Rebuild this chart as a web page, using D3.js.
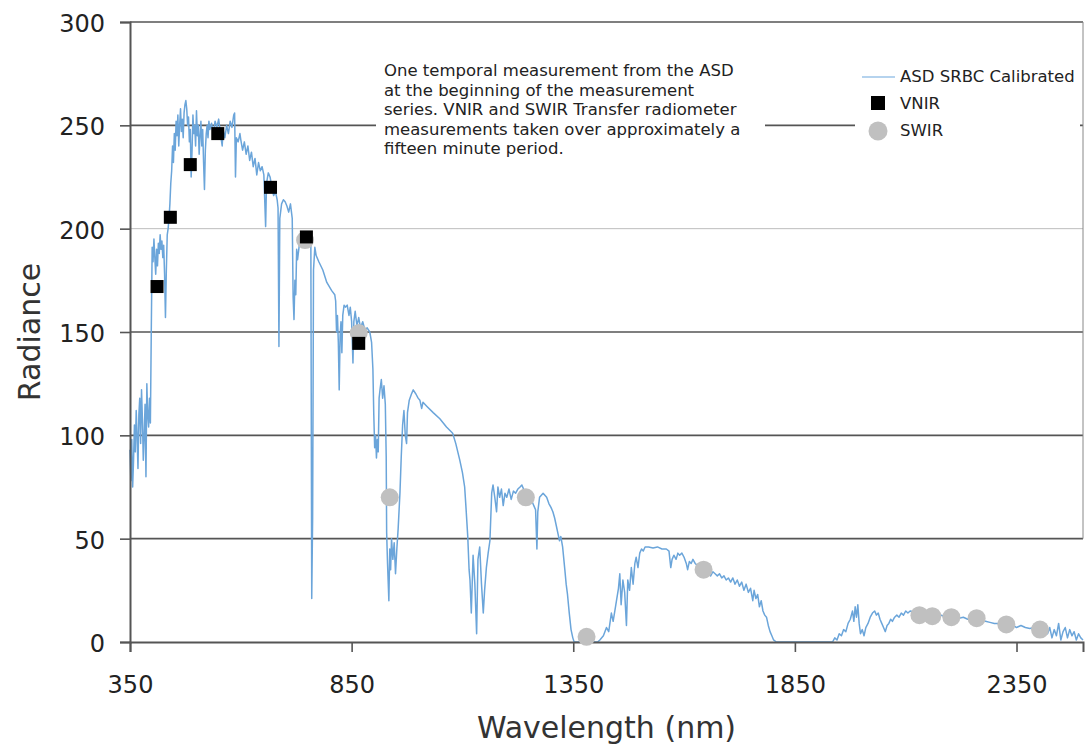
<!DOCTYPE html>
<html>
<head>
<meta charset="utf-8">
<script src="https://cdn.jsdelivr.net/npm/d3@7"></script>
<style>
  body { margin: 0; background: #fff; }
  text { font-family: "DejaVu Sans", Verdana, sans-serif; }
</style>
</head>
<body>
<div id="container"></div>
<script>
/* CONSTANTS AND GLOBALS */
const width = 1091;
const height = 748;
const margin = { top: 22, right: 8, bottom: 106, left: 130 };

/* DATA */
const xTicks = [350, 850, 1350, 1850, 2350];
const yTicks = [0, 50, 100, 150, 200, 250, 300];

// transfer radiometer channels
const vnirNm = [411, 441, 486, 548, 667, 748, 866];
const vnirRad = [172, 205.5, 231, 246, 220, 196, 144.5];
const swirNm = [745, 866, 936, 1243, 1380, 1644, 2131, 2160, 2203, 2260, 2327, 2403];
const swirRad = [194.5, 149.5, 70, 70, 2.5, 35, 13, 12.5, 12, 11.5, 8.5, 6];

// ASD spectrum, [wavelength nm, radiance]
const spectrum = [
  [350,93],[352,78],[354,98],[356,75],[358,88],[360,105],[362,92],[364,112],[366,100],[368,84],
  [370,110],[372,118],[374,96],[376,122],[378,108],[380,88],[382,100],[384,115],[386,80],[388,125],
  [390,110],[392,104],[394,118],[396,106],[398,150],[400,191],[402,184],[404,195],[406,186],[408,178],
  [410,190],[412,182],[414,193],[416,188],[418,197],[420,190],[422,194],[424,186],[426,192],[428,178],
  [430,157],[432,180],[434,197],[436,200],[438,205],[440,212],[442,222],[444,228],[446,240],[448,232],
  [450,246],[452,238],[454,252],[456,245],[458,255],[460,240],[462,250],[464,258],[466,247],[468,253],
  [470,244],[472,256],[474,260],[476,262],[478,258],[480,250],[482,254],[484,242],[486,248],[488,225],
  [490,238],[492,255],[494,246],[496,250],[498,240],[500,257],[502,245],[504,250],[506,236],[508,245],
  [510,252],[512,240],[514,248],[516,232],[518,219],[520,238],[522,246],[524,250],[526,244],[528,252],
  [530,248],[534,251],[538,246],[542,252],[546,249],[550,253],[554,246],[558,240],[560,248],[564,244],
  [568,250],[572,246],[576,252],[580,249],[584,255],[586,256],[588,225],[590,244],[594,242],[598,246],
  [600,243],[604,238],[608,242],[612,236],[616,240],[620,233],[624,237],[628,230],[632,234],[636,226],
  [640,232],[644,228],[648,230],[652,226],[656,201],[658,222],[662,227],[666,225],[670,220],[674,216],
  [678,218],[682,214],[684,210],[686,143],[688,205],[692,212],[696,214],[700,213],[704,211],[708,208],
  [712,212],[716,205],[718,167],[720,156],[722,175],[724,168],[726,190],[728,185],[733,194],[738,197],
  [743,198],[748,197],[753,196],[758,194],[760,21],[762,60],[764,180],[767,191],[770,187],[776,184],
  [785,180],[794,174],[805,170],[812,168],[814,165],[816,150],[818,158],[820,145],[822,122],[824,148],
  [826,155],[828,140],[830,158],[833,163],[836,162],[840,163],[844,158],[847,162],[850,155],[853,135],
  [855,155],[858,160],[862,153],[866,157],[870,152],[875,155],[880,151],[885,152],[891,150],[895,145],
  [898,132],[900,110],[902,94],[904,100],[906,89],[908,98],[910,92],[912,118],[914,122],[917,127],
  [920,118],[923,124],[926,115],[928,90],[929,53],[931,38],[934,20],[936,45],[938,35],[940,50],
  [943,40],[946,48],[949,33],[952,45],[955,55],[959,72],[962,90],[965,105],[968,112],[971,100],
  [974,96],[976,111],[980,117],[985,120],[989,122],[995,120],[1000,118],[1004,117],[1008,113],[1011,116],
  [1020,114],[1034,111],[1049,108],[1064,104],[1078,101],[1085,96],[1094,88],[1100,82],[1105,75],[1108,65],
  [1112,51],[1115,35],[1117,30],[1120,14],[1124,42],[1128,28],[1132,4],[1135,40],[1139,46],[1143,28],
  [1147,14],[1150,25],[1154,36],[1158,43],[1162,49],[1166,72],[1169,76],[1173,70],[1177,63],[1180,75],
  [1184,70],[1188,74],[1192,66],[1196,72],[1200,70],[1205,74],[1210,69],[1215,73],[1220,72],[1225,74],
  [1230,75],[1234,76],[1240,73],[1246,71],[1252,70],[1257,68],[1261,66],[1265,64],[1268,45],[1270,63],
  [1274,70],[1278,71],[1282,72],[1286,71],[1290,70],[1295,67],[1300,65],[1304,63],[1308,60],[1312,56],
  [1316,52],[1319,49],[1322,51],[1326,46],[1331,35],[1334,28],[1337,23],[1341,14],[1345,6],[1349,2],
  [1352,0],[1380,0],[1405,0],[1410,1],[1418,3],[1425,7],[1430,5],[1436,14],[1440,10],[1446,18],
  [1452,26],[1455,33],[1458,18],[1462,30],[1466,24],[1470,8],[1473,30],[1477,25],[1481,36],[1485,28],
  [1489,38],[1492,41],[1496,36],[1500,43],[1504,45],[1508,44],[1512,46],[1520,46],[1530,45.5],[1540,46],
  [1550,45],[1560,45],[1566,44],[1570,36],[1573,40],[1577,42],[1582,40],[1586,43],[1590,42],[1595,43],
  [1600,41],[1605,38],[1608,35],[1612,39],[1616,38],[1620,40],[1625,38],[1630,37],[1635,36],[1640,35],
  [1645,34],[1650,35],[1655,33],[1660,32],[1665,34],[1670,33],[1675,32],[1680,33],[1685,31],[1690,32],
  [1695,30],[1700,31],[1705,29],[1710,31],[1715,28],[1720,30],[1725,27],[1730,29],[1735,25],[1740,28],
  [1745,24],[1750,26],[1755,20],[1758,25],[1762,21],[1766,23],[1770,17],[1774,20],[1778,15],[1782,13],
  [1786,12],[1790,8],[1794,5],[1798,3],[1802,1],[1808,0],[1870,0],[1935,0],[1940,2],[1945,1],
  [1950,4],[1955,3],[1960,6],[1965,5],[1970,9],[1975,11],[1980,15],[1983,10],[1986,17],[1989,12],
  [1992,18],[1995,9],[1998,4],[2002,6],[2006,3],[2010,7],[2015,9],[2020,12],[2025,14],[2030,15],
  [2034,13],[2038,14],[2042,11],[2046,9],[2050,7],[2054,5],[2058,8],[2062,9],[2066,11],[2070,10],
  [2075,12],[2080,13],[2085,12],[2090,14],[2095,13],[2100,15],[2105,14],[2110,15],[2120,14.5],[2130,14],
  [2140,14],[2150,13],[2160,13],[2170,12.5],[2180,13],[2190,12],[2200,12],[2210,12.5],[2220,11.5],[2230,12],
  [2240,11],[2250,11.5],[2260,11],[2270,10.5],[2280,10],[2290,9.5],[2300,9],[2310,9],[2320,8.5],[2330,8],
  [2340,8.5],[2350,7],[2360,8],[2370,7],[2380,6.5],[2390,7],[2400,6],[2410,5],[2415,8],[2420,4],
  [2425,7],[2430,2],[2435,6],[2440,3],[2445,9],[2450,1],[2455,5],[2460,7],[2465,2],[2470,6],
  [2475,3],[2480,5],[2485,1],[2490,4],[2495,2],[2500,1]
];

const noteLines = [
  "One temporal measurement from the ASD",
  "at the beginning of the measurement",
  "series. VNIR and SWIR Transfer radiometer",
  "measurements taken over approximately a",
  "fifteen minute period."
];
const legendLabels = ["ASD SRBC Calibrated", "VNIR", "SWIR"];

/* SVG */
const svg = d3.select("#container").append("svg")
  .attr("width", width)
  .attr("height", height);

/* SCALES */
const xScale = d3.scaleLinear()
  .domain([350, 2500])
  .range([margin.left, width - margin.right]);

const yScale = d3.scaleLinear()
  .domain([0, 300])
  .range([height - margin.bottom, margin.top]);

// gridlines (the 200 line is lighter in the original)
svg.selectAll("line.grid")
  .data(yTicks.filter(d => d > 0))
  .join("line")
  .attr("class", "grid")
  .attr("x1", margin.left)
  .attr("x2", width - margin.right)
  .attr("y1", d => yScale(d))
  .attr("y2", d => yScale(d))
  .attr("stroke", d => d === 200 ? "#bdbdbd" : "#555")
  .attr("stroke-width", d => d === 200 ? 1 : 1.6);

// right border down to the 50 line
svg.append("line")
  .attr("x1", width - margin.right).attr("x2", width - margin.right)
  .attr("y1", yScale(300)).attr("y2", yScale(50))
  .attr("stroke", "#888").attr("stroke-width", 1);

// annotation box
const noteG = svg.append("g");
noteG.append("rect")
  .attr("x", 376).attr("y", 52).attr("width", 389).attr("height", 112)
  .attr("fill", "#fff");
noteG.selectAll("text")
  .data(noteLines)
  .join("text")
  .attr("x", 384)
  .attr("y", (d, i) => 76 + i * 19.5)
  .attr("font-size", 16.5)
  .attr("fill", "#222")
  .text(d => d);

/* SPECTRUM */
const line = d3.line()
  .x(d => xScale(d[0]))
  .y(d => yScale(d[1]));

svg.append("path")
  .datum(spectrum)
  .attr("d", line)
  .attr("fill", "none")
  .attr("stroke", "#6ba5da")
  .attr("stroke-width", 1.5)
  .attr("stroke-linejoin", "round");

/* AXES */
const xAxis = d3.axisBottom(xScale).tickValues(xTicks).tickFormat(d3.format("d"))
  .tickSize(10).tickPadding(24);
const yAxis = d3.axisLeft(yScale).tickValues(yTicks).tickSize(10).tickPadding(15);

const gx = svg.append("g")
  .attr("transform", `translate(0, ${height - margin.bottom})`)
  .call(xAxis);
const gy = svg.append("g")
  .attr("transform", `translate(${margin.left}, 0)`)
  .call(yAxis);

[gx, gy].forEach(g => {
  g.select(".domain").attr("stroke", "#555").attr("stroke-width", 2);
  g.selectAll(".tick line").attr("stroke", "#555").attr("stroke-width", 1.6);
  g.selectAll(".tick text")
    .attr("font-family", "DejaVu Sans, sans-serif")
    .attr("font-size", 24)
    .attr("fill", "#222");
});
gy.selectAll(".tick text").attr("dy", "0.4em");

/* MARKERS */
svg.selectAll("circle.swir")
  .data(swirNm)
  .join("circle")
  .attr("class", "swir")
  .attr("cx", d => xScale(d))
  .attr("cy", (d, i) => yScale(swirRad[i]))
  .attr("r", 9)
  .attr("fill", "#c0c0c0");

svg.selectAll("rect.vnir")
  .data(vnirNm)
  .join("rect")
  .attr("class", "vnir")
  .attr("x", d => xScale(d) - 6.5)
  .attr("y", (d, i) => yScale(vnirRad[i]) - 6.5)
  .attr("width", 13)
  .attr("height", 13)
  .attr("fill", "#000");

/* TITLES */
svg.append("text")
  .attr("x", (margin.left + width - margin.right) / 2)
  .attr("y", 738)
  .attr("text-anchor", "middle")
  .attr("font-size", 30)
  .attr("fill", "#333")
  .text("Wavelength (nm)");

svg.append("text")
  .attr("transform", `translate(40, ${(margin.top + height - margin.bottom) / 2}) rotate(-90)`)
  .attr("text-anchor", "middle")
  .attr("font-size", 30)
  .attr("fill", "#333")
  .text("Radiance");

/* LEGEND */
const legend = svg.append("g");
legend.append("rect")
  .attr("x", 855).attr("y", 58).attr("width", 225).attr("height", 90)
  .attr("fill", "#fff");
legend.append("line")
  .attr("x1", 862).attr("x2", 895).attr("y1", 77).attr("y2", 77)
  .attr("stroke", "#9cc5e8").attr("stroke-width", 1.3);
legend.append("rect")
  .attr("x", 871).attr("y", 96).attr("width", 14).attr("height", 14)
  .attr("fill", "#000");
legend.append("circle")
  .attr("cx", 878).attr("cy", 131).attr("r", 9.5)
  .attr("fill", "#c0c0c0");
legend.selectAll("text")
  .data(legendLabels)
  .join("text")
  .attr("x", 900)
  .attr("y", (d, i) => 82 + i * 27)
  .attr("font-size", 16.5)
  .attr("fill", "#222")
  .text(d => d);
</script>
</body>
</html>
